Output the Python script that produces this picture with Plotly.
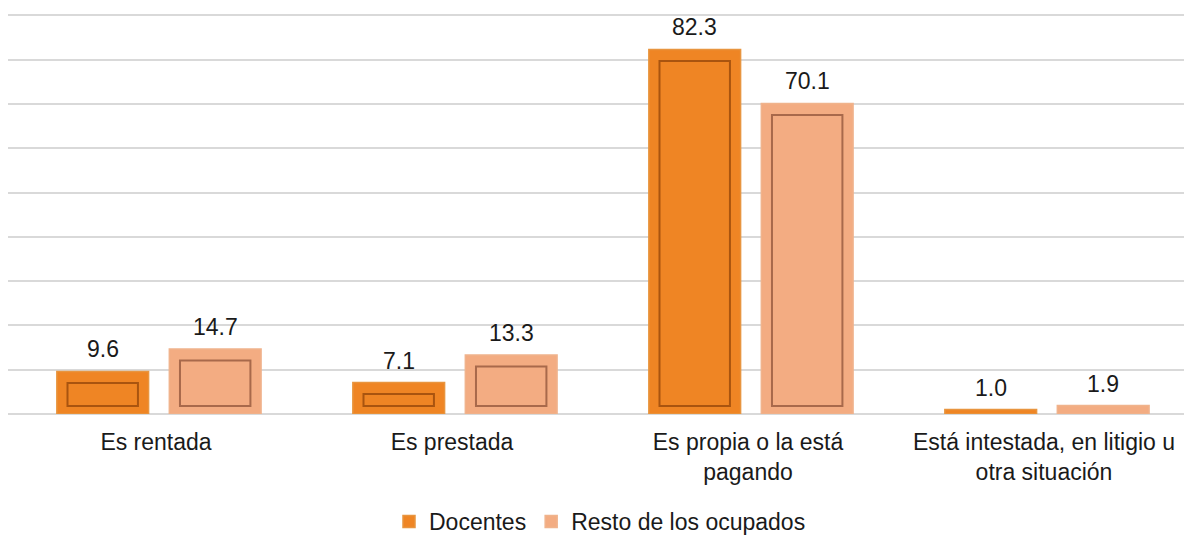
import plotly.graph_objects as go

categories = [
    "Es rentada",
    "Es prestada",
    "Es propia o la está<br>pagando",
    "Está intestada, en litigio u<br>otra situación",
]
docentes = [9.6, 7.1, 82.3, 1.0]
resto = [14.7, 13.3, 70.1, 1.9]

# bevel look: inner outline drawn as a second, narrower bar
inset_bottom = 1.8
inset_top = 2.6


def inner(vals):
    return [v - inset_top - inset_bottom if v > 5 else None for v in vals]


fig = go.Figure()

series = [
    ("Docentes", docentes, "#EF8524", "#E8953F", "#A9540F", -0.335),
    ("Resto de los ocupados", resto, "#F3AC82", "#F0B38C", "#A8694B", 0.045),
]
bar_w = 0.31
cat_px = 1184 / 4  # width of one category in pixels

annotations = []
for name, vals, fill, edge, dark, off in series:
    fig.add_trace(go.Bar(
        name=name, x=categories, y=vals,
        offset=off, width=bar_w,
        marker=dict(color=fill, line=dict(color=edge, width=1.5)),
    ))
    fig.add_trace(go.Bar(
        name=name, x=categories, y=inner(vals), base=inset_bottom,
        offset=off + 0.036, width=bar_w - 0.072,
        marker=dict(color="rgba(0,0,0,0)", line=dict(color=dark, width=2)),
        showlegend=False, hoverinfo="skip",
    ))
    for cat, v in zip(categories, vals):
        annotations.append(dict(
            x=cat, y=v, xref="x", yref="y", text=f"{v:.1f}",
            showarrow=False, yanchor="bottom", yshift=7,
            xshift=(off + bar_w / 2) * cat_px,
            font=dict(size=23, color="#1a1a1a"),
        ))

# the page body has an 8px margin, so the figure sits 8px right/down
fig.update_layout(
    width=1184, height=535,
    barmode="overlay",
    template="plotly_white",
    plot_bgcolor="white",
    paper_bgcolor="white",
    font=dict(family="Liberation Sans, Arial, sans-serif", size=23, color="#1a1a1a"),
    margin=dict(l=0, r=0, t=6, b=128),
    legend=dict(
        orientation="h", x=0.5, xanchor="center", y=-0.269, yanchor="middle",
        font=dict(size=23), traceorder="normal",
    ),
    annotations=annotations,
)

fig.update_yaxes(
    range=[0, 90.3], dtick=10, showticklabels=False,
    gridcolor="#D9D9D9", gridwidth=2, zeroline=True,
    zerolinecolor="#D9D9D9", zerolinewidth=2,
)
fig.update_xaxes(
    showgrid=False, ticklabelstandoff=12,
    tickfont=dict(size=23, color="#1a1a1a"),
)

fig.write_html("out.html")
